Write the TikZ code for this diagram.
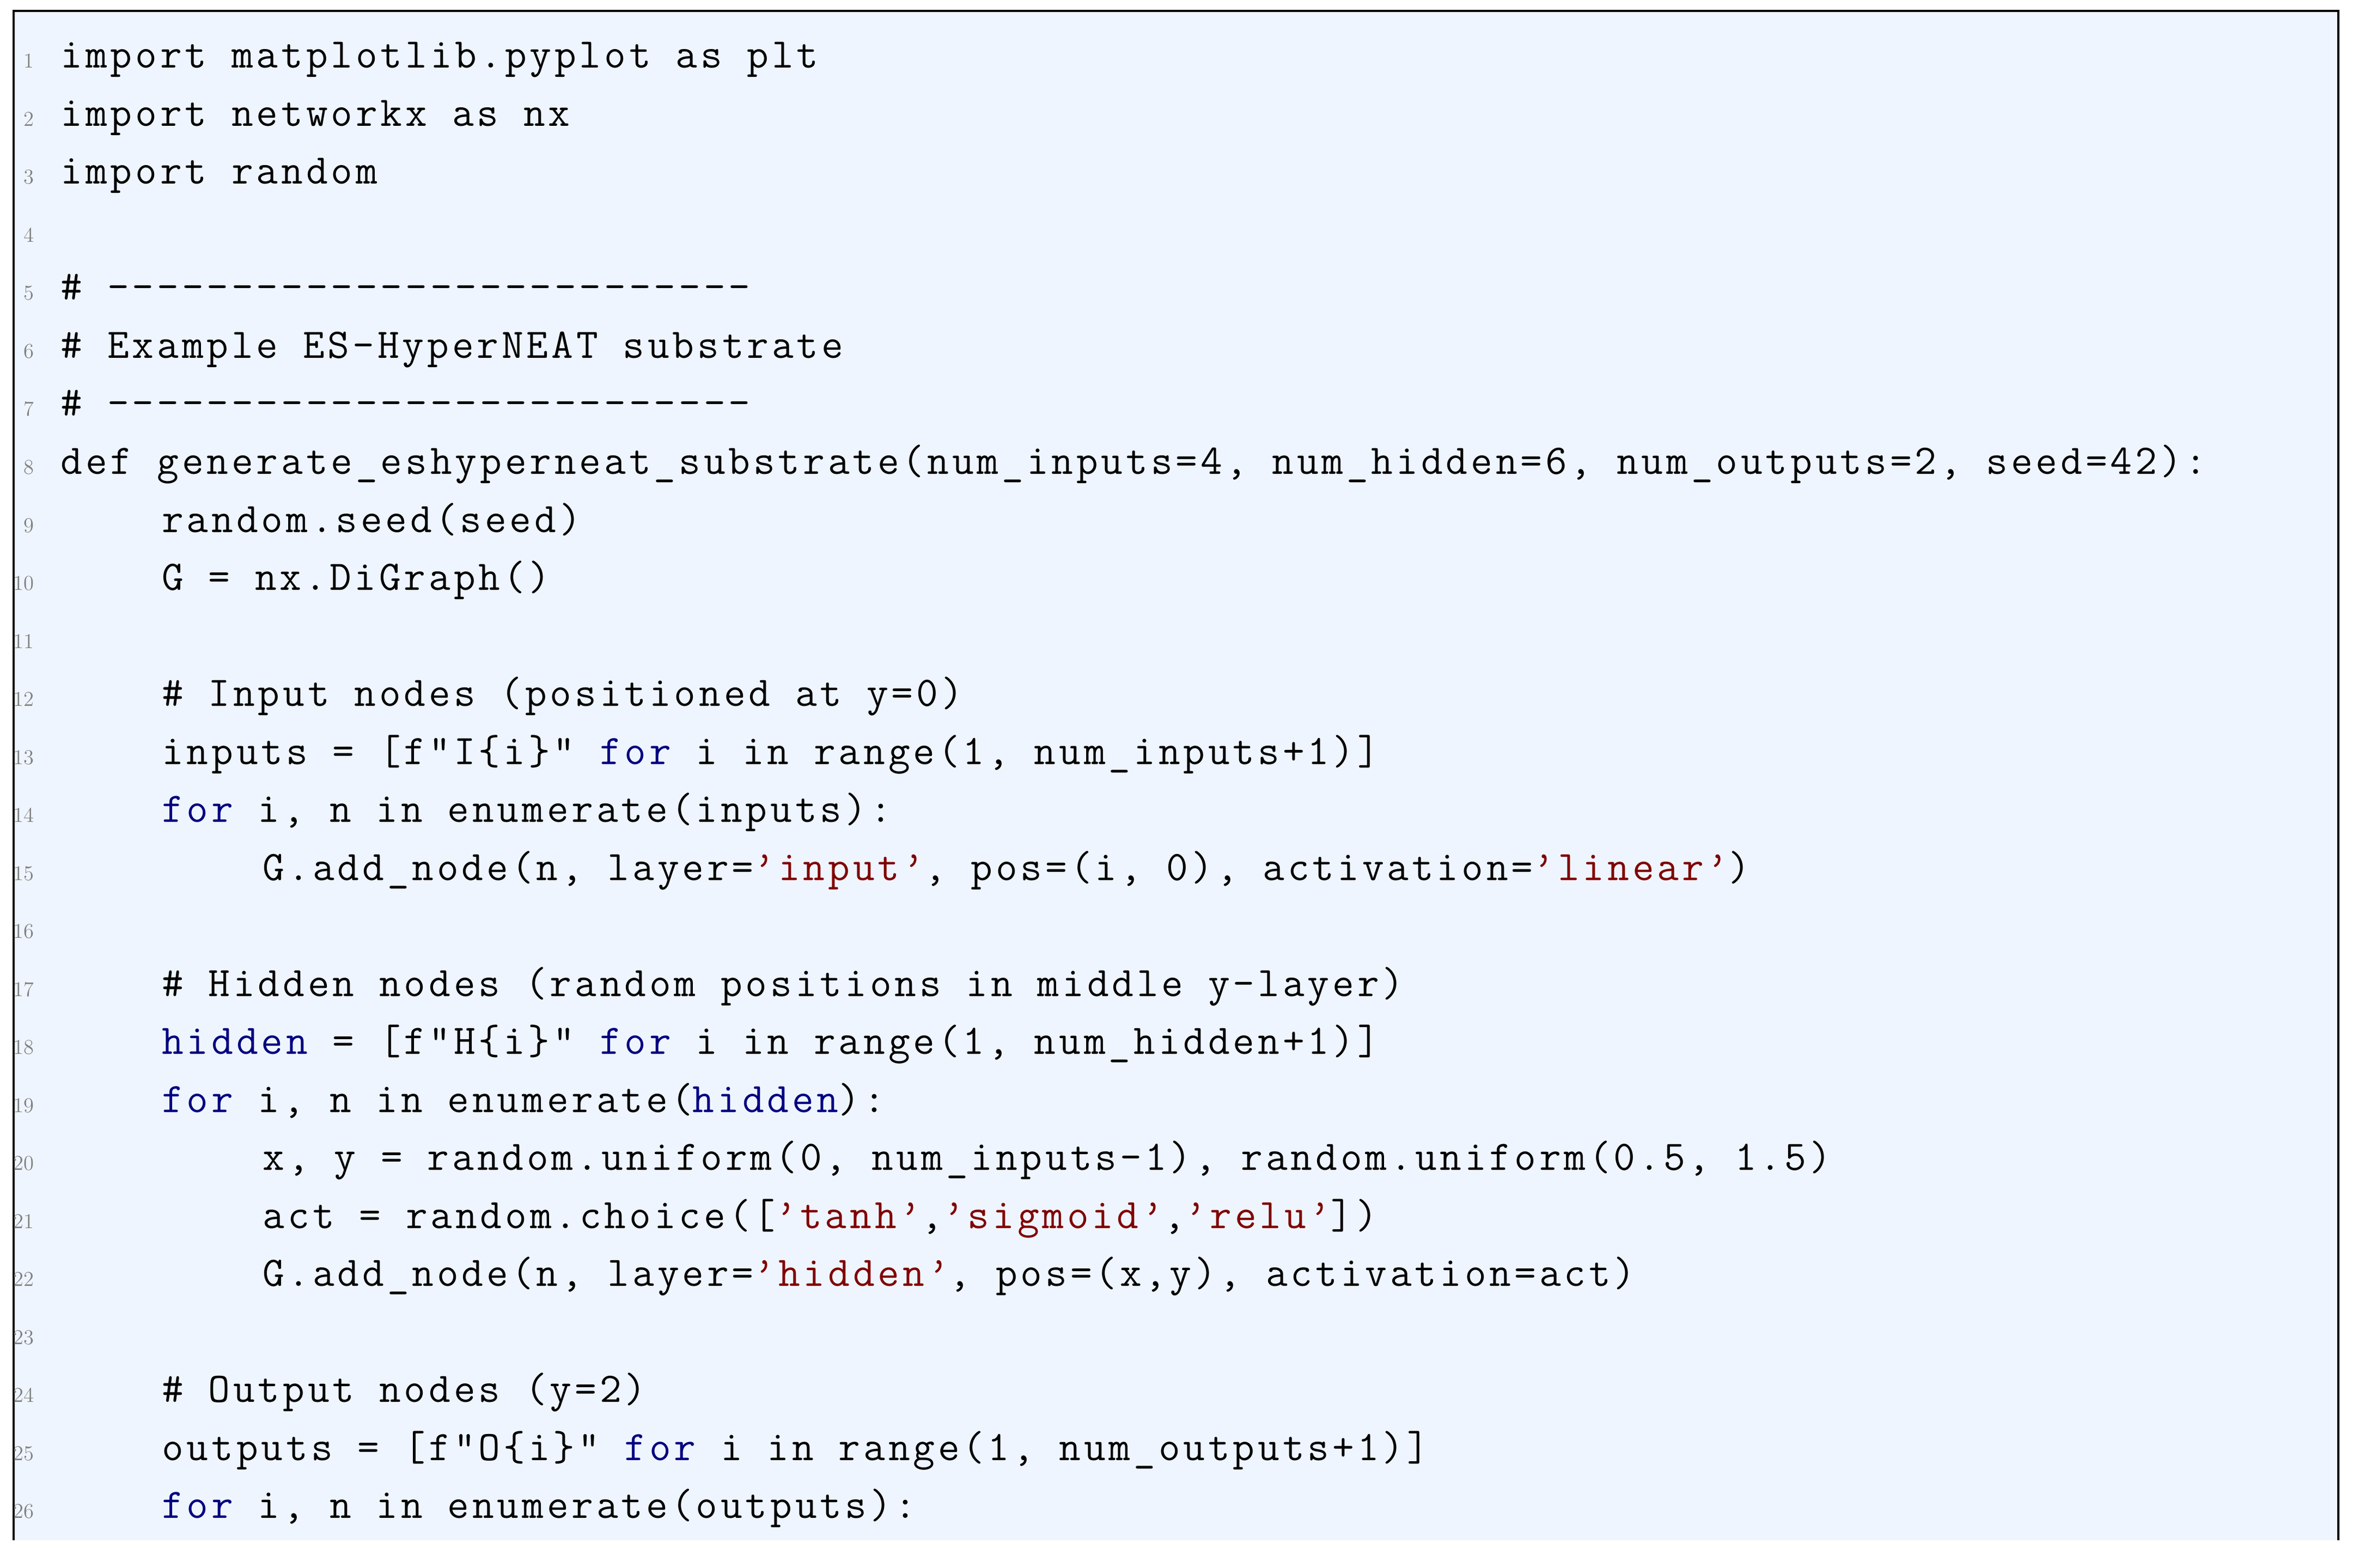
\documentclass[tikz,border=0pt]{standalone}
\usepackage{fontspec}
\usepackage{tikz}
\usepackage{xcolor}
\newfontfamily\codefont[LetterSpace=7.5]{Latin Modern Mono}
\definecolor{codebg}{HTML}{EEF5FE}
\definecolor{kwblue}{HTML}{000080}
\definecolor{strred}{HTML}{800000}
\newcommand{\colw}{0.464}
\newcommand{\pitch}{1.065}
\newcommand{\kw}[1]{\textcolor{kwblue}{#1}}
\newcommand{\str}[1]{\textcolor{strred}{#1}}
\newcommand{\codeln}[3]{\node[codetext] (ln#1) at (1.11+\colw*#2,-1.25-\pitch*#1+\pitch) {#3};}

\begin{document}
\begin{tikzpicture}[
    codetext/.style={anchor=base west,inner sep=0pt,font=\codefont\fontsize{22}{26}\selectfont},
    lnum/.style={anchor=base east,inner sep=0pt,text=gray,font=\fontsize{11}{13}\selectfont}]
    \useasboundingbox (0,0) rectangle (43.42,-28.79);

    \fill[codebg] (0.25,-0.20) rectangle (42.93,-28.28);
    \draw[line width=1.1pt] (0.25,-28.28) -- (0.25,-0.20) -- (42.93,-0.20) -- (42.93,-28.28);

    \foreach \n in {1,...,26}
        \node[lnum] (num\n) at (0.63,-1.25-\pitch*\n+\pitch) {\n};

    \codeln{1}{0}{import matplotlib.pyplot as plt}
    \codeln{2}{0}{import networkx as nx}
    \codeln{3}{0}{import random}

    \codeln{5}{0}{\# --------------------------}
    \codeln{6}{0}{\# Example ES-HyperNEAT substrate}
    \codeln{7}{0}{\# --------------------------}
    \codeln{8}{0}{def generate\_eshyperneat\_substrate(num\_inputs=4, num\_hidden=6, num\_outputs=2, seed=42):}
    \codeln{9}{4}{random.seed(seed)}
    \codeln{10}{4}{G = nx.DiGraph()}

    \codeln{12}{4}{\# Input nodes (positioned at y=0)}
    \codeln{13}{4}{inputs = [f"I\{i\}" \kw{for} i in range(1, num\_inputs+1)]}
    \codeln{14}{4}{\kw{for} i, n in enumerate(inputs):}
    \codeln{15}{8}{G.add\_node(n, layer=\str{’input’}, pos=(i, 0), activation=\str{’linear’})}

    \codeln{17}{4}{\# Hidden nodes (random positions in middle y-layer)}
    \codeln{18}{4}{\kw{hidden} = [f"H\{i\}" \kw{for} i in range(1, num\_hidden+1)]}
    \codeln{19}{4}{\kw{for} i, n in enumerate(\kw{hidden}):}
    \codeln{20}{8}{x, y = random.uniform(0, num\_inputs-1), random.uniform(0.5, 1.5)}
    \codeln{21}{8}{act = random.choice([\str{’tanh’},\str{’sigmoid’},\str{’relu’}])}
    \codeln{22}{8}{G.add\_node(n, layer=\str{’hidden’}, pos=(x,y), activation=act)}

    \codeln{24}{4}{\# Output nodes (y=2)}
    \codeln{25}{4}{outputs = [f"O\{i\}" \kw{for} i in range(1, num\_outputs+1)]}
    \codeln{26}{4}{\kw{for} i, n in enumerate(outputs):}
\end{tikzpicture}
\end{document}
